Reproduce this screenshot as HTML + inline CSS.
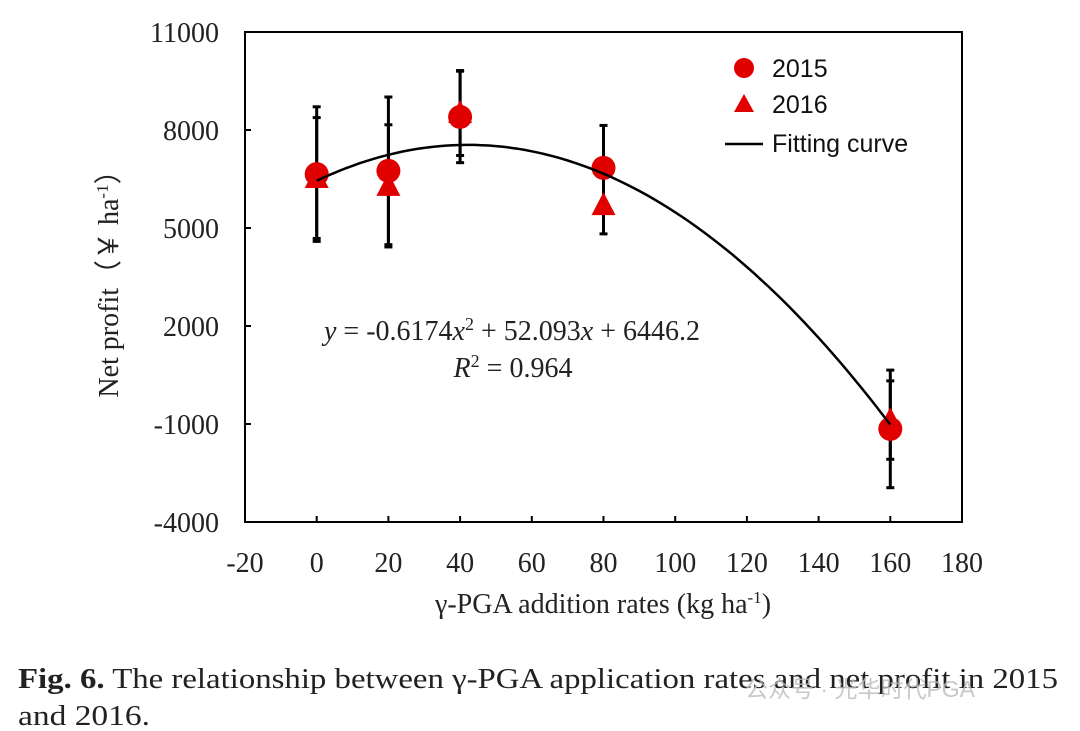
<!DOCTYPE html>
<html><head><meta charset="utf-8"><style>
body{margin:0;background:#fff;width:1080px;height:731px;overflow:hidden}
svg{display:block}
</style></head><body>
<svg width="1080" height="731" id="chart">
<g id="axes"></g><g id="marks"></g>
<g font-family="Liberation Sans, DejaVu Sans, sans-serif" font-size="25" fill="#111">
<circle cx="744" cy="68" r="10" fill="#e00000"/>
<text x="772" y="77">2015</text>
<polygon points="744,94 734,112 754,112" fill="#e00000"/>
<text x="772" y="113">2016</text>
<line x1="725" y1="144" x2="763" y2="144" stroke="#000" stroke-width="2.5"/>
<text x="772" y="152">Fitting curve</text>
</g>
<g font-family="Liberation Serif, serif" font-size="28" fill="#222">
<text x="512" y="340" text-anchor="middle"><tspan font-style="italic">y</tspan> = -0.6174<tspan font-style="italic">x</tspan><tspan font-size="18" dy="-10">2</tspan><tspan dy="10"> + 52.093</tspan><tspan font-style="italic">x</tspan> + 6446.2</text>
<text x="513" y="377" text-anchor="middle"><tspan font-style="italic">R</tspan><tspan font-size="18" dy="-10">2</tspan><tspan dy="10"> = 0.964</tspan></text>
<text x="603" y="613" text-anchor="middle">γ-PGA addition rates (kg ha<tspan font-size="17" dy="-10">-1</tspan><tspan dy="10">)</tspan></text>
<text transform="translate(118,277) rotate(-90)" text-anchor="middle">Net profit（￥ ha<tspan font-size="17" dy="-10">-1</tspan><tspan dy="10">）</tspan></text>
</g>
<text x="18" y="688" font-family="Liberation Serif, serif" font-size="29" fill="#222" textLength="1040" lengthAdjust="spacingAndGlyphs"><tspan font-weight="bold">Fig. 6.</tspan>  The relationship between γ-PGA application rates and net profit in 2015</text>
<text x="18" y="725" font-family="Liberation Serif, serif" font-size="29" fill="#222" textLength="132" lengthAdjust="spacingAndGlyphs">and 2016.</text>
<text x="745" y="697" font-family="Liberation Sans, Noto Sans CJK SC, sans-serif" font-size="23" fill="#bbb" opacity="0.8">公众号 · 光华时代PGA</text>
</svg>
<script>
const xTicks=[-20,0,20,40,60,80,100,120,140,160,180];
const yTicks=[-4000,-1000,2000,5000,8000,11000];
const rates=[0,20,40,80,160];
const profit2015=[6650,6750,8400,6840,-1150];
const profit2016=[6530,6290,8520,5700,-880];
const err2015=[2060,2260,1400,1300,1800];
const err2016=[1850,1870,1300,880,1200];
const fitCoef=[-0.6174,52.093,6446.2];
const X0=245,X1=962,Y0=522,Y1=32;
const sx=v=>X0+(v+20)/200*(X1-X0);
const sy=v=>Y0-(v+4000)/15000*(Y0-Y1);
const NS='http://www.w3.org/2000/svg';
const axes=document.getElementById('axes'),marks=document.getElementById('marks');
function mk(tag,attrs,parent){const e=document.createElementNS(NS,tag);for(const k in attrs)e.setAttribute(k,attrs[k]);parent.appendChild(e);return e;}
let e=mk('rect',{x:X0,y:Y1,width:X1-X0,height:Y0-Y1,fill:'none',stroke:'#000','stroke-width':2},axes);


xTicks.forEach(t=>{
 let l=mk('line',{x1:sx(t),x2:sx(t),y1:Y0,y2:Y0-6,stroke:'#000','stroke-width':2},axes);
 
 
 let tx=mk('text',{x:sx(t),y:Y0+50,'text-anchor':'middle','font-family':'Liberation Serif, serif','font-size':28,fill:'#222'},axes);tx.textContent=t;
 
 
});
yTicks.forEach(t=>{
 let l=mk('line',{x1:X0,x2:X0+6,y1:sy(t),y2:sy(t),stroke:'#000','stroke-width':2},axes);
 
 
 let tx=mk('text',{x:X0-26,y:sy(t)+10,'text-anchor':'end','font-family':'Liberation Serif, serif','font-size':28,fill:'#222'},axes);tx.textContent=t;
 
 
});
function ebar(x,v,er,name){
 const g=mk('g',{stroke:'#000','stroke-width':3},marks);
 
 
 mk('line',{x1:sx(x),x2:sx(x),y1:sy(v+er),y2:sy(v-er)},g);
 mk('line',{x1:sx(x)-4,x2:sx(x)+4,y1:sy(v+er),y2:sy(v+er)},g);
 mk('line',{x1:sx(x)-4,x2:sx(x)+4,y1:sy(v-er),y2:sy(v-er)},g);
}
rates.forEach((r,i)=>{ebar(r,profit2015[i],err2015[i],'error-bar-2015');ebar(r,profit2016[i],err2016[i],'error-bar-2016');});
let d='';for(let x=0;x<=160;x+=2){const y=fitCoef[0]*x*x+fitCoef[1]*x+fitCoef[2];d+=(x?'L':'M')+sx(x).toFixed(1)+','+sy(y).toFixed(1);}
rates.forEach((r,i)=>{
 const c=sx(r),y=sy(profit2016[i]);
 let p=mk('polygon',{points:`${c},${y-13} ${c-12},${y+10} ${c+12},${y+10}`,fill:'#e00000'},marks);
 
 
});
rates.forEach((r,i)=>{
 let c=mk('circle',{cx:sx(r),cy:sy(profit2015[i]),r:12,fill:'#e00000'},marks);
 
 
});
let fit=mk('path',{d:d,fill:'none',stroke:'#000','stroke-width':2.5},marks);


</script>
</body></html>
